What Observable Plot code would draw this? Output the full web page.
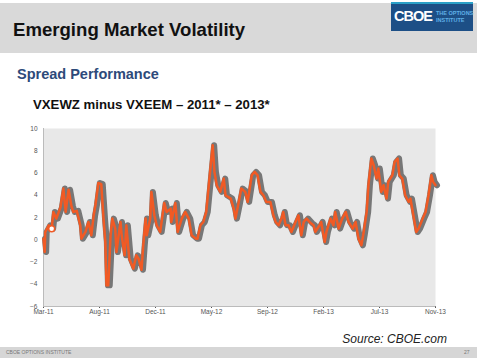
<!DOCTYPE html>
<html><head><meta charset="utf-8">
<script src="https://cdn.jsdelivr.net/npm/d3@7"></script>
<script src="https://cdn.jsdelivr.net/npm/@observablehq/plot@0.6"></script>
<style>
body{margin:0;background:#fff;font-family:Arial,"Liberation Sans",sans-serif;}
#slide{position:relative;width:480px;height:360px;overflow:hidden;background:#fff;}
.abs{position:absolute;white-space:nowrap;}
</style></head><body>
<div id="slide">
  <div class="abs" style="left:0;top:3px;width:477px;height:50px;background:#d9d9d9;"></div>
  <div class="abs" style="left:13px;top:19px;font-size:18.6px;font-weight:bold;color:#111;">Emerging Market Volatility</div>
  <div class="abs" style="left:391px;top:2px;width:82px;height:27px;background:#1d4f86;border-top:2px solid #2aa0c8;"></div>
  <div class="abs" style="left:394px;top:8px;font-size:14.5px;font-weight:bold;color:#fff;letter-spacing:-1px;">CBOE</div>
  <div class="abs" style="left:436px;top:10px;font-size:5.5px;font-weight:bold;color:#5fb0e6;line-height:7px;">THE OPTIONS<br>INSTITUTE</div>
  <div class="abs" style="left:17px;top:66px;font-size:14.5px;font-weight:bold;color:#2d4a7a;">Spread Performance</div>
  <div class="abs" style="left:33px;top:97px;font-size:13.2px;font-weight:bold;color:#111;">VXEWZ minus VXEEM – 2011* – 2013*</div>
  <div id="chart" class="abs" style="left:0;top:115px;"></div>
  <div class="abs" style="right:33px;top:332px;font-size:12px;font-style:italic;color:#222;">Source: CBOE.com</div>
  <div class="abs" style="left:0;top:347px;width:477px;height:11px;background:#d6d6d6;"></div>
  <div class="abs" style="left:6px;top:349px;font-size:5px;color:#777;">CBOE OPTIONS INSTITUTE</div>
  <div class="abs" style="left:464px;top:349px;font-size:5px;color:#777;">27</div>
</div>
<script>
const days = [0,2,3,9,14,17,22,29,34,38,43,48,51,57,63,65,72,77,82,86,89,94,99,103,106,108,111,115,118,123,125,132,134,139,142,147,154,159,163,168,171,175,177,183,185,190,194,200,207,211,218,219,226,230,237,243,249,254,261,264,269,274,279,285,290,293,297,303,309,312,321,326,329,334,339,346,350,357,362,367,372,377,382,389,394,398,403,408,411,415,420,425,432,437,442,446,451,458,463,466,473,476,482,485,492,497,500,506,512,518,523,530,535,540,545,548,554,557,562,566,571,574,579,583,588,591,598,602,607,610,615,620,626,629,634,639,643,650,655,660,665,668,672];
const spread = [0.1,-1.1,0.7,1.3,1.0,2.5,1.9,2.9,4.6,2.5,4.5,3.0,2.5,2.6,1.3,0.1,0.7,1.6,0.4,2.2,3.1,5.1,5.0,1.8,-0.2,-4.1,-4.1,0.4,1.9,1.0,-1.1,1.6,0.4,-1.4,1.3,-1.7,-2.6,-1.4,-1.7,-2.7,-0.5,1.9,0.4,1.9,4.3,2.2,1.3,0.7,3.3,2.5,2.8,1.6,3.3,0.7,1.9,2.5,1.9,0.4,0.1,0.1,1.3,1.6,2.5,5.8,8.5,6.1,4.9,4.3,5.5,4.0,3.7,2.8,1.9,3.2,4.6,4.3,3.4,5.8,6.1,5.8,4.3,4.0,3.4,3.4,2.2,1.6,1.3,1.9,2.5,1.3,1.3,0.7,1.6,2.2,0.4,1.6,1.9,1.5,1.3,0.7,1.3,1.6,-0.2,0.7,1.9,1.3,2.5,1.0,1.9,2.5,1.6,1.0,1.6,0.1,-0.5,0.4,2.5,4.9,7.3,6.7,5.5,6.4,4.3,4.9,3.7,5.2,5.8,7.0,7.3,5.8,5.5,4.0,3.4,3.7,2.2,0.7,1.0,1.9,2.5,4.0,5.8,5.2,4.9];
const tickDays = [0,96,192,288,384,480,576,672];
const tickLabels = ["Mar-11","Aug-11","Dec-11","May-12","Sep-12","Feb-13","Jul-13","Nov-13"];
const yTicks = [-6,-4,-2,0,2,4,6,8,10];
const markerDay = [14];
const markerVal = [1.0];

const data = days.map((d,i)=>({d, v: spread[i]}));
const marker = markerDay.map((d,i)=>({d, v: markerVal[i]}));

const chart = Plot.plot({
  width: 480, height: 212,
  marginLeft: 43, marginRight: 45, marginTop: 13, marginBottom: 21,
  style: {fontFamily: "Arial, 'Liberation Sans', sans-serif", fontSize: "6.5px", color: "#555", background: "transparent"},
  x: {domain: [0, 672], ticks: tickDays, tickFormat: d => tickLabels[tickDays.indexOf(d)], tickSize: 2, tickPadding: 1, label: null},
  y: {domain: [-6, 10], ticks: yTicks, tickSize: 0, tickPadding: 6, label: null},
  marks: [
    Plot.frame({fill: "#e8e8e8", stroke: null}),
    Plot.ruleX([0], {stroke: "#bbb"}),
    Plot.ruleY([-6], {stroke: "#bbb"}),
    Plot.line(data, {x: "d", y: "v", stroke: "#777", strokeWidth: 6, dx: 1.5}),
    Plot.line(data, {x: "d", y: "v", stroke: "#f15a24", strokeWidth: 2.5}),
    Plot.dot(marker, {x: "d", y: "v", r: 3, fill: "#fff", stroke: "#f15a24", strokeWidth: 1.5})
  ]
});
document.getElementById("chart").appendChild(chart);
</script>
</body></html>
